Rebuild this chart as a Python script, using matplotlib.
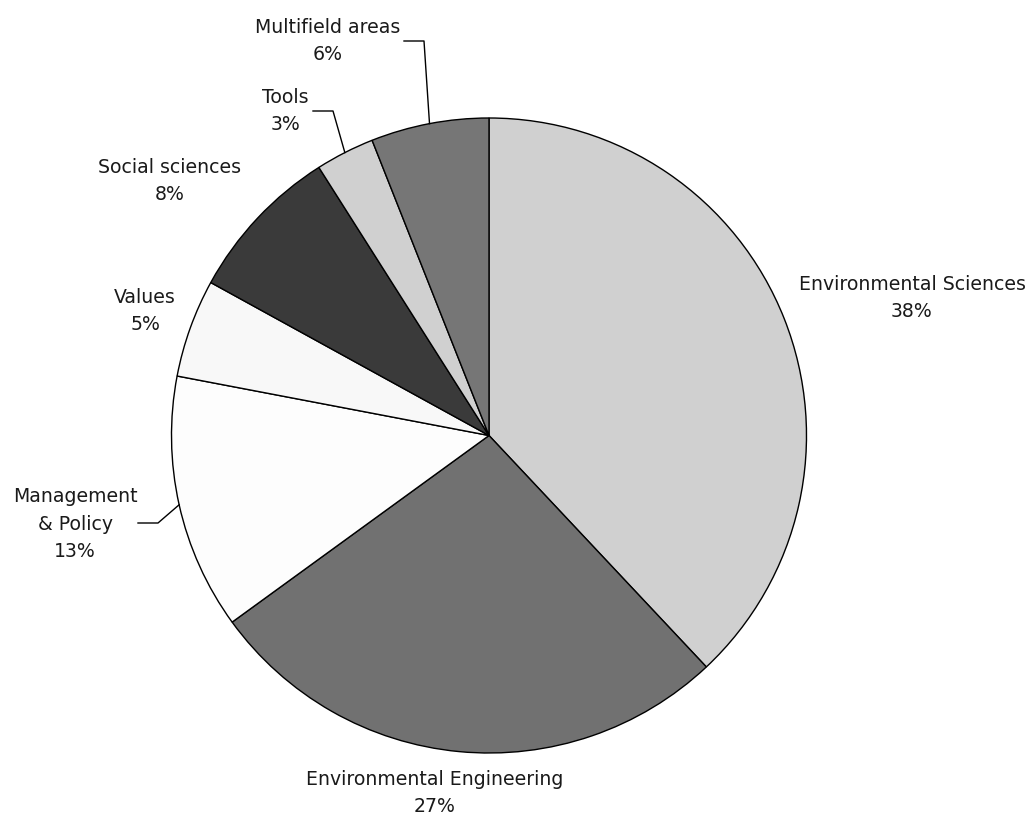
import matplotlib
matplotlib.use("Agg")
import matplotlib.pyplot as plt
import numpy as np

categories = ["Environmental Sciences", "Environmental Engineering", "Management\n& Policy",
              "Values", "Social sciences", "Tools", "Multifield areas"]
values = [38, 27, 13, 5, 8, 3, 6]
colors = ["#d0d0d0", "#717171", "#fdfdfd", "#f8f8f8", "#3a3a3a", "#d0d0d0", "#767676"]

W, H = 1031, 817
fig = plt.figure(figsize=(W / 100, H / 100), dpi=100)
ax = fig.add_axes([0, 0, 1, 1])
ax.set_xlim(0, W)
ax.set_ylim(0, H)
ax.axis("off")

cx, cy, R = 489, H - 435.5, 317.5
wedges, _ = ax.pie(values, colors=colors, startangle=90, counterclock=False,
                   center=(cx, cy), radius=R,
                   wedgeprops=dict(edgecolor="black", linewidth=1.0))
ax.set_xlim(0, W)
ax.set_ylim(0, H)
ax.set_aspect("equal")

# label layout (pixel coords, top-left origin): centre of text block
label_pos = [(912, 298), (435, 793), (75, 524), (145, 311), (170, 181), (285, 111), (328, 41)]
# leader lines: (text-side x, y, elbow x) or None
leaders = [None, None, (138, 523, 158), None, None, (313, 111, 333), (404, 41, 424)]

for w, cat, v, (lx, ly), ld in zip(wedges, categories, values, label_pos, leaders):
    ax.text(lx, H - ly, f"{cat}\n{v}%", ha="center", va="center",
            fontsize=13.6, family="DejaVu Sans", color="#1a1a1a", linespacing=1.55)
    if ld is not None:
        mid = np.deg2rad((w.theta1 + w.theta2) / 2)
        px, py = cx + R * np.cos(mid), cy + R * np.sin(mid)
        x0, y0, xe = ld
        ax.plot([x0, xe, px], [H - y0, H - y0, py], color="black", lw=1.0)

fig.savefig("out.png", dpi=100)
